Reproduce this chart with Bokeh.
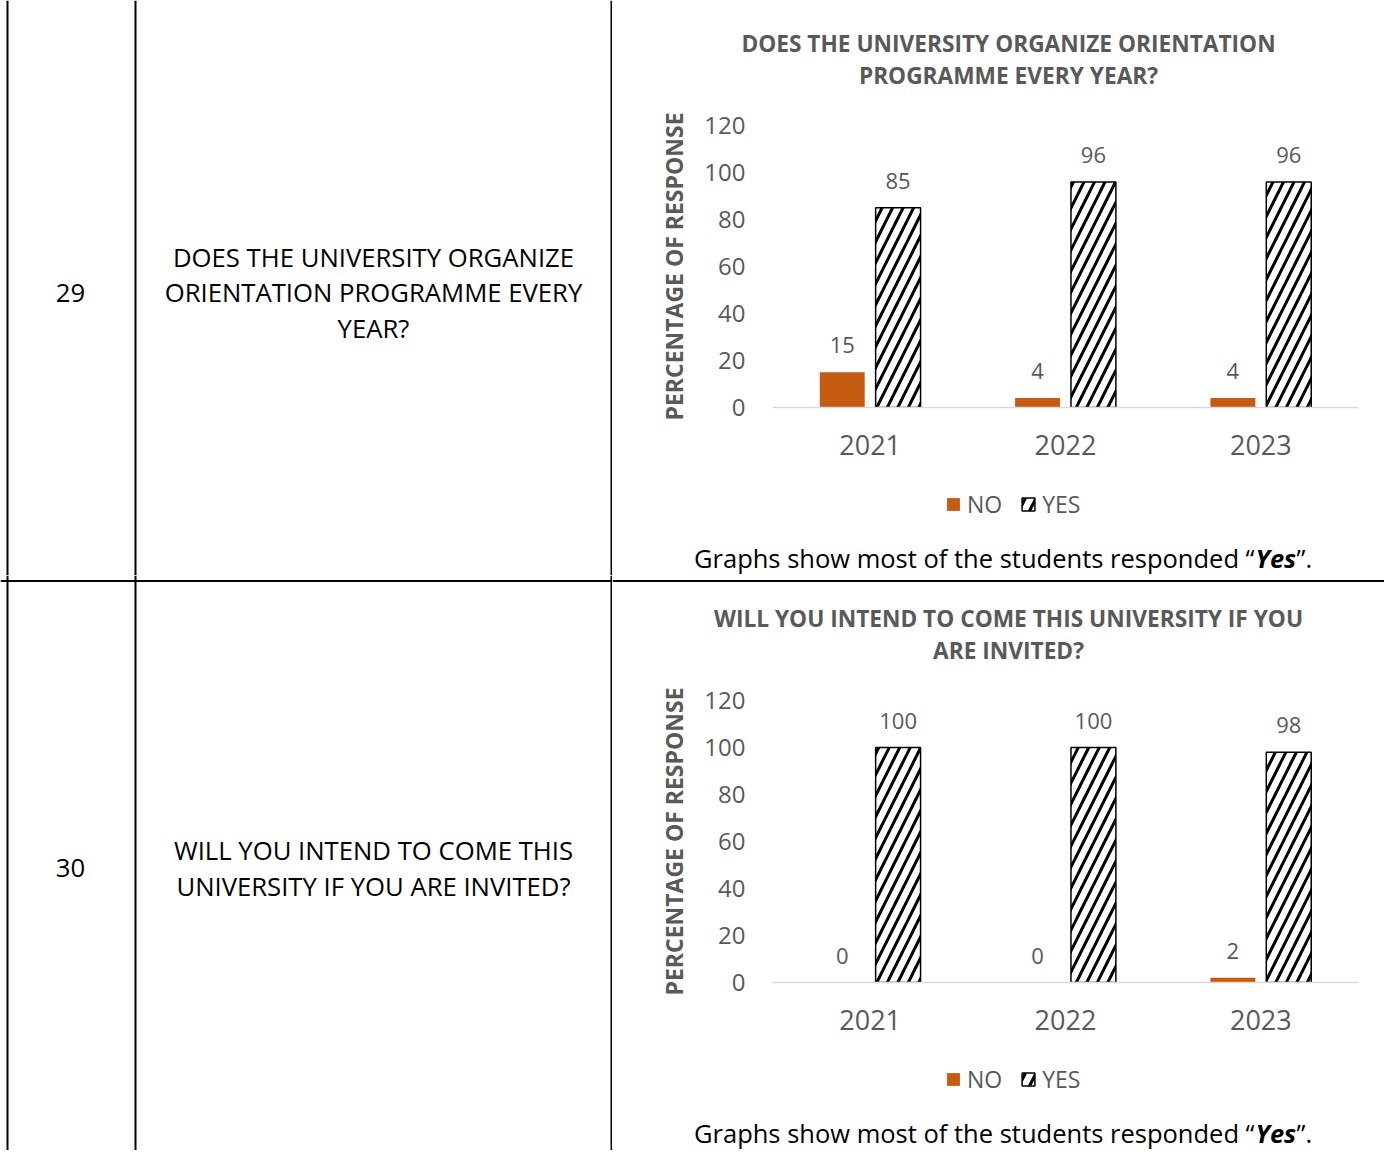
from bokeh.plotting import figure
from bokeh.models import (Range1d, FactorRange, Span, Label, LabelSet, ColumnDataSource,
                          Legend, LegendItem, FixedTicker)
from bokeh.transform import dodge
from bokeh.layouts import column, row
from bokeh.embed import file_html
from bokeh.resources import INLINE
from bokeh.core.properties import value

# ---------------- data ----------------
years = ["2021", "2022", "2023"]
q29_no = [15, 4, 4]
q29_yes = [85, 96, 96]
q30_no = [0, 0, 2]
q30_yes = [100, 100, 98]
y_ticks = [0, 20, 40, 60, 80, 100, 120]
series_names = ["NO", "YES"]
row_numbers = ["29", "30"]
questions = [["DOES THE UNIVERSITY ORGANIZE", "ORIENTATION PROGRAMME EVERY", "YEAR?"],
             ["WILL YOU INTEND TO COME THIS", "UNIVERSITY IF YOU ARE INVITED?"]]
chart_titles = [["DOES THE UNIVERSITY ORGANIZE ORIENTATION", "PROGRAMME EVERY YEAR?"],
                ["WILL YOU INTEND TO COME THIS UNIVERSITY IF YOU", "ARE INVITED?"]]
y_title = "PERCENTAGE OF RESPONSE"
caption_parts = ["Graphs show most of the students responded \u201c", "Yes", "\u201d."]

# ---------------- style ----------------
FONT = "Open Sans"
GRAY = "#595959"
ORANGE = "#C55A11"
LEFT_W = 612
CHART_W = 772
ROW_H = 575
T_H = 105
C_H = 372
B_H = ROW_H - T_H - C_H


def no_align(p):
    if "frame_align" in p.properties():
        p.frame_align = False
    return p


def canvas(w, h):
    p = figure(width=w, height=h, x_range=Range1d(0, w), y_range=Range1d(h, 0),
               output_backend="svg", toolbar_location=None, min_border=0,
               x_axis_location=None, y_axis_location=None)
    p.grid.visible = False
    p.outline_line_color = None
    return no_align(p)


def left_cell(number, lines, line_ys, num_y, top_line):
    p = canvas(LEFT_W, ROW_H)
    for x in (7, 135, 611):
        p.add_layout(Span(location=x, dimension="height", line_color="black", line_width=2))
    if top_line:
        p.add_layout(Span(location=5.5, dimension="width", line_color="black", line_width=2))
    p.add_layout(Label(x=70, y=num_y, text=number, text_align="center", text_baseline="middle",
                       text_font=FONT, text_font_size="25.7px", text_color="black"))
    for t, y in zip(lines, line_ys):
        p.add_layout(Label(x=373, y=y, text=t, text_align="center", text_baseline="middle",
                           text_font=FONT, text_font_size="25.7px", text_color="black"))
    return p


def title_cell(title_lines, top_line):
    p = canvas(CHART_W, T_H)
    if top_line:
        p.add_layout(Span(location=5.5, dimension="width", line_color="black", line_width=2))
    for t, y in zip(title_lines, (43, 75)):
        p.add_layout(Label(x=396, y=y, text=t, text_align="center", text_baseline="middle",
                           text_font=FONT, text_font_style="bold", text_font_size="22.7px",
                           text_color=GRAY))
    return p


NO_STYLE = dict(fill_color=ORANGE, line_color=None)
YES_STYLE = dict(fill_color="white", line_color="black", line_width=1.5,
                 hatch_pattern="/", hatch_color="black", hatch_scale=21, hatch_weight=3)


def make_source(no_vals, yes_vals):
    return ColumnDataSource(dict(year=years, no=no_vals, yes=yes_vals,
                                 no_lbl=[str(v) for v in no_vals],
                                 yes_lbl=[str(v) for v in yes_vals]))


def chart(src):
    p = figure(width=CHART_W, height=C_H, x_range=FactorRange(*years), y_range=Range1d(0, 120),
               output_backend="svg", toolbar_location=None,
               min_border_left=160, min_border_right=26, min_border_top=20,
               min_border_bottom=C_H - 20 - 282)
    no_align(p)
    p.grid.visible = False
    p.outline_line_color = None

    x_no = dodge("year", -0.143, range=p.x_range)
    x_yes = dodge("year", 0.143, range=p.x_range)
    p.vbar(x=x_no, top="no", width=0.23, source=src, **NO_STYLE)
    p.vbar(x=x_yes, top="yes", width=0.23, source=src, **YES_STYLE)

    for xx, col in ((x_no, "no"), (x_yes, "yes")):
        p.add_layout(LabelSet(x=xx, y=col, text=col + "_lbl", source=src, y_offset=27,
                              text_align="center", text_baseline="middle",
                              text_font=value(FONT), text_font_size="22px", text_color=GRAY))

    p.xaxis.axis_line_color = "#D9D9D9"
    p.xaxis.axis_line_width = 1.5
    p.xaxis.major_tick_line_color = None
    p.xaxis.minor_tick_line_color = None
    p.xaxis.major_label_text_font = FONT
    p.xaxis.major_label_text_font_size = "27px"
    p.xaxis.major_label_text_color = GRAY
    p.xaxis.major_label_standoff = 21

    p.yaxis.ticker = FixedTicker(ticks=y_ticks)
    p.yaxis.axis_line_color = None
    p.yaxis.major_tick_line_color = None
    p.yaxis.minor_tick_line_color = None
    p.yaxis.major_label_text_font = FONT
    p.yaxis.major_label_text_font_size = "24px"
    p.yaxis.major_label_text_color = GRAY
    p.yaxis.major_label_standoff = 21
    p.yaxis.axis_label = y_title
    p.yaxis.axis_label_text_font = FONT
    p.yaxis.axis_label_text_font_style = "bold"
    p.yaxis.axis_label_text_font_size = "23px"
    p.yaxis.axis_label_text_color = GRAY
    p.yaxis.axis_label_standoff = 11
    return p


def bottom_cell(src):
    p = canvas(CHART_W, B_H)
    # legend proxies: same series, drawn on an off-canvas range so only the legend shows them
    p.extra_x_ranges = {"proxy": Range1d(10000, 10001)}
    p.extra_y_ranges = {"proxy": Range1d(10000, 10001)}
    r_no = p.vbar(x="no", top="no", width=1, source=src,
                  x_range_name="proxy", y_range_name="proxy", **NO_STYLE)
    r_yes = p.vbar(x="yes", top="yes", width=1, source=src,
                   x_range_name="proxy", y_range_name="proxy", **YES_STYLE)
    legend = Legend(items=[LegendItem(label=series_names[0], renderers=[r_no]),
                           LegendItem(label=series_names[1], renderers=[r_yes])],
                    orientation="horizontal", location=(333, 55),
                    background_fill_alpha=0, border_line_color=None,
                    label_text_font=FONT, label_text_font_size="23px", label_text_color=GRAY,
                    glyph_width=16, glyph_height=16, spacing=18, padding=0, margin=0,
                    label_standoff=6)
    p.add_layout(legend)

    cy = 80.5
    fs = "25.5px"
    p.add_layout(Label(x=642, y=cy, text=caption_parts[0], text_align="right",
                       text_baseline="middle", text_font=FONT, text_font_size=fs,
                       text_color="black"))
    p.add_layout(Label(x=643, y=cy, text=caption_parts[1], text_align="left",
                       text_baseline="middle", text_font=FONT, text_font_style="bold italic",
                       text_font_size=fs, text_color="black"))
    p.add_layout(Label(x=684, y=cy, text=caption_parts[2], text_align="left",
                       text_baseline="middle", text_font=FONT, text_font_size=fs,
                       text_color="black"))
    return p


src29 = make_source(q29_no, q29_yes)
src30 = make_source(q30_no, q30_yes)

L1 = left_cell(row_numbers[0], questions[0], (257, 292, 328), 292, False)
R1 = column(title_cell(chart_titles[0], False), chart(src29), bottom_cell(src29))
L2 = left_cell(row_numbers[1], questions[1], (275, 311), 292, True)
R2 = column(title_cell(chart_titles[1], True), chart(src30), bottom_cell(src30))

layout = column(row(L1, R1), row(L2, R2))
open("out.html", "w").write(file_html(layout, INLINE))
